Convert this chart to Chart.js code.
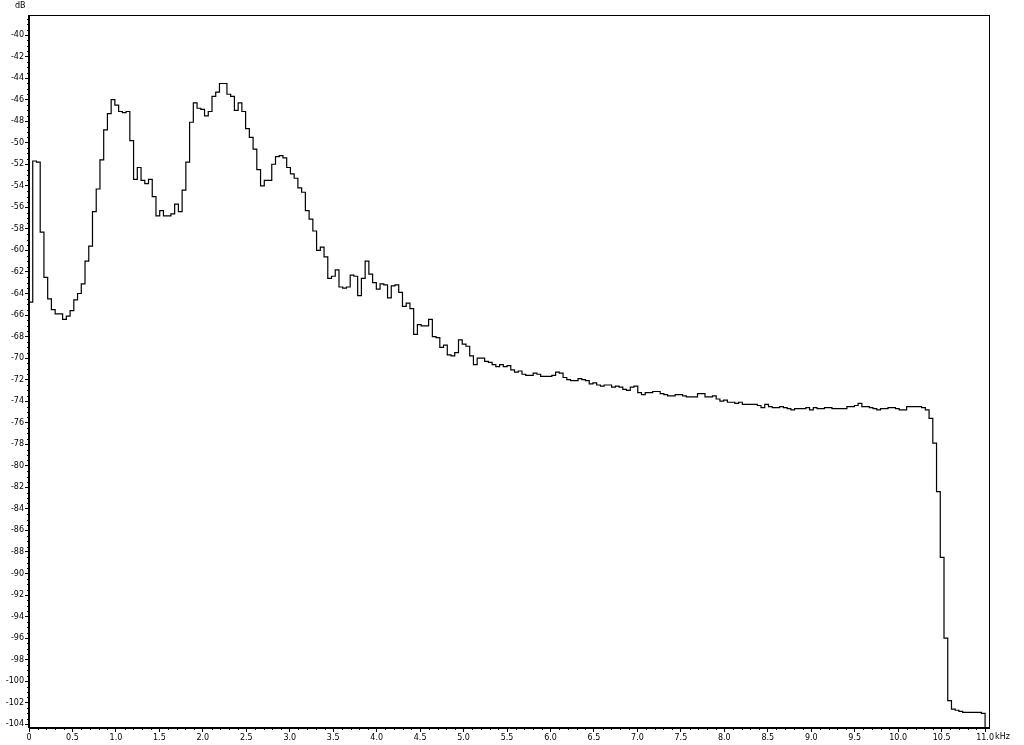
<!DOCTYPE html>
<html>
<head>
<meta charset="utf-8">
<script src="https://cdn.jsdelivr.net/npm/chart.js@4.4.1/dist/chart.umd.min.js"></script>
<style>
  html, body { margin: 0; padding: 0; background: #fff; }
</style>
</head>
<body>
<canvas id="spectrum" width="1024" height="745"></canvas>
<script>
// Level of each frequency bin (dB), 256 bins from 0 to 11 kHz
const levelsDb = [
  -64.8, -51.7, -51.8, -58.3, -62.5, -64.5, -65.5, -65.9, -65.9, -66.4,
  -66.1, -65.6, -64.6, -64.0, -63.1, -61.0, -59.6, -56.4, -54.3, -51.6,
  -48.8, -47.3, -46.0, -46.5, -47.1, -47.2, -47.1, -49.8, -53.4, -52.3,
  -53.5, -53.8, -53.4, -55.0, -56.8, -56.3, -56.8, -56.8, -56.6, -55.7,
  -56.4, -54.4, -51.8, -48.1, -46.3, -46.8, -46.9, -47.5, -47.1, -45.7,
  -45.3, -44.5, -44.5, -45.5, -45.7, -47.0, -46.3, -47.1, -48.7, -49.5,
  -50.6, -52.5, -54.0, -53.5, -53.5, -52.0, -51.3, -51.2, -51.4, -52.3,
  -52.9, -53.3, -54.2, -54.6, -56.3, -57.1, -58.2, -60.0, -59.7, -60.6,
  -62.6, -62.4, -61.8, -63.4, -63.5, -63.4, -62.3, -62.4, -64.2, -62.6,
  -61.0, -62.2, -63.0, -63.6, -63.1, -63.2, -64.4, -63.3, -63.2, -63.9,
  -65.2, -64.9, -65.4, -67.8, -66.9, -67.0, -67.0, -66.4, -68.0, -68.1,
  -69.0, -68.8, -69.7, -69.8, -69.5, -68.3, -68.7, -68.9, -69.8, -70.6,
  -70.0, -70.0, -70.3, -70.4, -70.6, -70.8, -70.6, -70.8, -70.7, -71.1,
  -71.3, -71.2, -71.5, -71.6, -71.6, -71.4, -71.5, -71.7, -71.7, -71.7,
  -71.6, -71.3, -71.4, -71.8, -72.0, -72.1, -72.1, -71.9, -72.0, -72.1,
  -72.4, -72.3, -72.5, -72.6, -72.5, -72.5, -72.7, -72.6, -72.7, -72.9,
  -73.0, -72.7, -72.6, -73.2, -73.4, -73.2, -73.2, -73.1, -73.1, -73.3,
  -73.4, -73.5, -73.5, -73.4, -73.4, -73.5, -73.6, -73.6, -73.6, -73.3,
  -73.3, -73.6, -73.6, -73.5, -73.8, -74.0, -73.9, -74.1, -74.1, -74.2,
  -74.1, -74.3, -74.3, -74.3, -74.3, -74.4, -74.6, -74.3, -74.5, -74.6,
  -74.6, -74.5, -74.6, -74.7, -74.8, -74.7, -74.7, -74.7, -74.6, -74.8,
  -74.6, -74.7, -74.7, -74.6, -74.6, -74.7, -74.7, -74.7, -74.7, -74.5,
  -74.5, -74.4, -74.2, -74.5, -74.5, -74.6, -74.7, -74.8, -74.7, -74.7,
  -74.6, -74.6, -74.7, -74.8, -74.8, -74.5, -74.5, -74.5, -74.5, -74.6,
  -74.8, -75.6, -77.9, -82.4, -88.5, -96.0, -101.8, -102.6, -102.7, -102.8,
  -102.9, -102.9, -102.9, -102.9, -102.9, -103.0
];

const freqMaxKHz = 11.0;
const binWidthKHz = freqMaxKHz / levelsDb.length;

// axis ranges
const xMin = 0, xMax = 11.045;
const yMin = -104.35, yMax = -38.14;

const FONT = '"DejaVu Sans", sans-serif';

// each bin starts at its own frequency, the step holds until the next bin
const points = levelsDb.map((v, i) => ({ x: i * binWidthKHz, y: v }));
points.push({ x: freqMaxKHz, y: -120 }); // trace drops off after the last bin

// box round the plot, the short minor ticks and the unit labels
const framePlugin = {
  id: 'frame',
  afterDraw(chart) {
    const { ctx, chartArea: a, scales: { x, y } } = chart;
    ctx.save();
    ctx.strokeStyle = '#000';
    ctx.lineWidth = 1;
    ctx.strokeRect(Math.round(a.left) - 0.5, Math.round(a.top) + 0.5,
      Math.round(a.right - a.left) + 1, Math.round(a.bottom - a.top) - 1);

    ctx.beginPath();
    for (let k = 1; k < 110; k++) {
      if (k % 5 === 0) continue;
      const px = Math.round(x.getPixelForValue(k / 10)) + 0.5;
      ctx.moveTo(px, a.bottom);
      ctx.lineTo(px, a.bottom + 2);
    }
    for (let k = -208; k <= -77; k++) {
      if (k % 4 === 0) continue;
      const py = Math.round(y.getPixelForValue(k / 2)) + 0.5;
      ctx.moveTo(a.left, py);
      ctx.lineTo(a.left - 2, py);
    }
    ctx.stroke();

    ctx.fillStyle = '#000';
    ctx.font = '8px ' + FONT;
    ctx.textBaseline = 'top';
    ctx.textAlign = 'left';
    ctx.fillText('dB', 15, 2);
    ctx.fillText('kHz', x.getPixelForValue(11) + 10, a.bottom + 5);
    ctx.restore();
  }
};

const ctx = document.getElementById('spectrum').getContext('2d');
new Chart(ctx, {
  type: 'line',
  data: {
    datasets: [{
      data: points,
      stepped: 'before',
      borderColor: '#000',
      borderWidth: 1.2,
      pointRadius: 0,
      fill: false
    }]
  },
  options: {
    responsive: false,
    animation: false,
    devicePixelRatio: 1,
    layout: { padding: { top: 15, right: 35, left: 0, bottom: 0 } },
    plugins: {
      legend: { display: false },
      tooltip: { enabled: false }
    },
    scales: {
      x: {
        type: 'linear',
        min: xMin,
        max: xMax,
        afterFit: (scale) => { scale.height = 17; },
        border: { display: true, color: '#000', width: 1 },
        grid: { drawOnChartArea: false, drawTicks: true, tickLength: 4, color: '#000' },
        ticks: {
          stepSize: 0.5,
          includeBounds: false,
          autoSkip: false,
          maxRotation: 0,
          padding: 1,
          color: '#000',
          font: { size: 8, family: FONT },
          callback: (v) => v === 0 ? '0' : v.toFixed(1)
        }
      },
      y: {
        type: 'linear',
        min: yMin,
        max: yMax,
        afterFit: (scale) => { scale.width = 29; },
        border: { display: true, color: '#000', width: 1 },
        grid: { drawOnChartArea: false, drawTicks: true, tickLength: 4, color: '#000' },
        ticks: {
          stepSize: 2,
          includeBounds: false,
          autoSkip: false,
          padding: 1,
          color: '#000',
          font: { size: 8, family: FONT },
          callback: (v) => String(v)
        }
      }
    }
  },
  plugins: [framePlugin]
});
</script>
</body>
</html>
